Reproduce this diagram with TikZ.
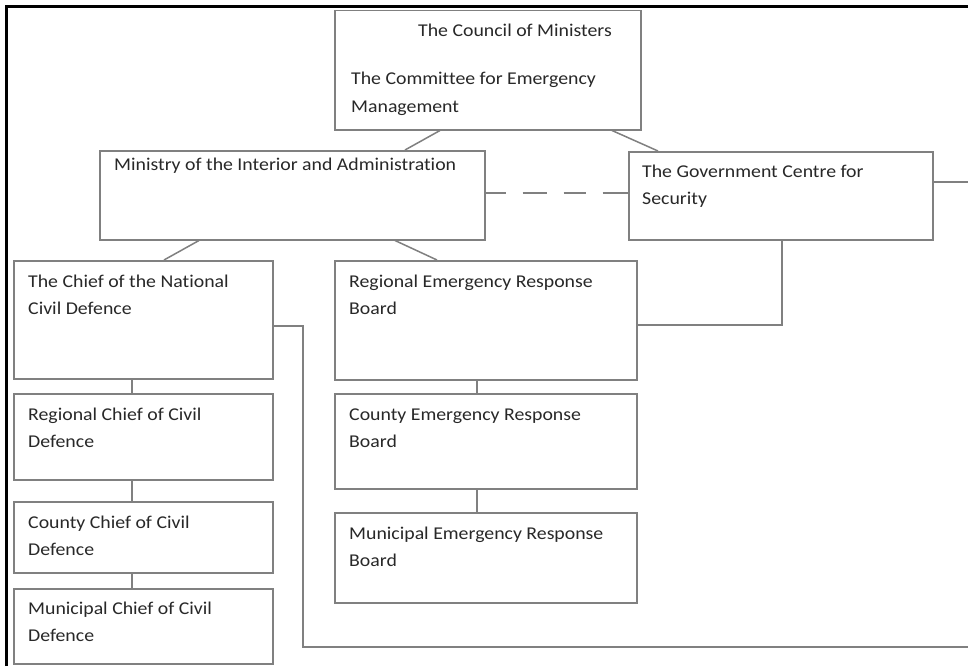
\documentclass[tikz,border=0pt]{standalone}
\usepackage{fontspec}
\setmainfont[FakeStretch=1.1,Ligatures=NoCommon]{Carlito}
\usetikzlibrary{calc}
\definecolor{edge}{RGB}{128,128,128}
\definecolor{ink}{RGB}{40,40,40}
\begin{document}
\begin{tikzpicture}[x=1pt,y=-1pt,
  orgbox/.style={draw=edge,line width=1.5pt,rectangle,inner sep=0pt,anchor=north west},
  lbl/.style={anchor=base west,inner sep=0pt,align=left,text=ink,font=\fontsize{18}{27.5}\selectfont},
  link/.style={draw=edge,line width=1.5pt}]
\fill[white] (0,0) rectangle (968,666);
\useasboundingbox (0,0) rectangle (968,666);

% outer frame (top and left edges)
\draw[line width=3pt,black] (6.5,666) -- (6.5,6.5) -- (968,6.5);

% top level (two-line labels are placed by the baseline of their last line)
\node[orgbox,minimum width=306pt,minimum height=119pt] (cm) at (334,10) {};
\node[lbl] (cmA) at ($(cm.north west)+(84,27)$) {The Council of Ministers};
\node[lbl] (cmB) at ($(cm.north west)+(17,102.5)$) {The Committee for Emergency\\Management};

% second level
\node[orgbox,minimum width=385pt,minimum height=89pt] (mi) at (99,150) {};
\node[lbl] (miL) at ($(mi.north west)+(15,20)$) {Ministry of the Interior and Administration};

\node[orgbox,minimum width=304pt,minimum height=88pt] (gc) at (628,151) {};
\node[lbl] (gcL) at ($(gc.north west)+(14,53.5)$) {The Government Centre for\\Security};

% civil defence column
\node[orgbox,minimum width=259pt,minimum height=118pt] (cn) at (13,260) {};
\node[lbl] (cnL) at ($(cn.north west)+(15,54.5)$) {The Chief of the National\\Civil Defence};

\node[orgbox,minimum width=259pt,minimum height=86pt] (rc) at (13,393) {};
\node[lbl] (rcL) at ($(rc.north west)+(15,54.5)$) {Regional Chief of Civil\\Defence};

\node[orgbox,minimum width=259pt,minimum height=71pt] (cc) at (13,501) {};
\node[lbl] (ccL) at ($(cc.north west)+(15,54.5)$) {County Chief of Civil\\Defence};

\node[orgbox,minimum width=259pt,minimum height=75pt] (mc) at (13,588) {};
\node[lbl] (mcL) at ($(mc.north west)+(15,53.5)$) {Municipal Chief of Civil\\Defence};

% emergency response column
\node[orgbox,minimum width=302pt,minimum height=119pt] (re) at (334,260) {};
\node[lbl] (reL) at ($(re.north west)+(15,54.5)$) {Regional Emergency Response\\Board};

\node[orgbox,minimum width=302pt,minimum height=95pt] (ce) at (334,393) {};
\node[lbl] (ceL) at ($(ce.north west)+(15,54.5)$) {County Emergency Response\\Board};

\node[orgbox,minimum width=302pt,minimum height=90pt] (me) at (334,512) {};
\node[lbl] (meL) at ($(me.north west)+(15,54.5)$) {Municipal Emergency Response\\Board};

% connectors
\draw[link] ($(cm.south west)+(106,0)$) -- ($(mi.north west)+(306,0)$);
\draw[link] ($(cm.south west)+(278,0)$) -- ($(gc.north west)+(30,0)$);
\draw[link,dash pattern=on 20pt off 17pt on 24pt off 17pt on 22pt off 17pt on 26pt off 0pt]
  (mi.east |- 0,193) -- (gc.west |- 0,193);
\draw[link] ($(mi.south west)+(100,0)$) -- ($(cn.north west)+(151,0)$);
\draw[link] ($(mi.south west)+(296,0)$) -- ($(re.north west)+(103,0)$);

\draw[link] ($(cn.south west)+(119,0)$) -- ($(rc.north west)+(119,0)$);
\draw[link] ($(rc.south west)+(119,0)$) -- ($(cc.north west)+(119,0)$);
\draw[link] ($(cc.south west)+(119,0)$) -- ($(mc.north west)+(119,0)$);

\draw[link] ($(re.south west)+(143,0)$) -- ($(ce.north west)+(143,0)$);
\draw[link] ($(ce.south west)+(143,0)$) -- ($(me.north west)+(143,0)$);

\coordinate (cnOut) at (968,647);
\draw[link] (cn.east |- 0,326) -- (303,326) -- (303,647) -- (cnOut);

\draw[link] ($(gc.south west)+(154,0)$) |- (re.east |- 0,325);

\coordinate (gcOut) at (968,182);
\draw[link] (gc.east |- 0,182) -- (gcOut);
\end{tikzpicture}
\end{document}
